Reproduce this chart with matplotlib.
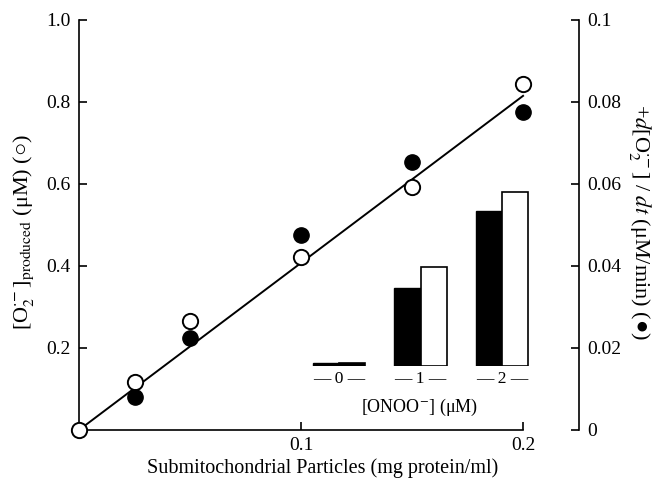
import matplotlib
matplotlib.use('Agg')
import matplotlib.pyplot as plt

# ---- data ----
x_open = [0.0, 0.025, 0.05, 0.1, 0.15, 0.2]
y_open = [0.0, 0.117, 0.266, 0.422, 0.593, 0.844]
x_filled = [0.025, 0.05, 0.1, 0.15, 0.2]
y_filled = [0.0080, 0.0225, 0.0475, 0.0654, 0.0775]
fit_x = [0.0, 0.2]
fit_y = [0.0, 0.815]
x_ticks = [0.1, 0.2]
x_ticklabels = ['0.1', '0.2']
left_ticks = [0.2, 0.4, 0.6, 0.8, 1.0]
left_ticklabels = ['0.2', '0.4', '0.6', '0.8', '1.0']
right_ticks = [0, 0.02, 0.04, 0.06, 0.08, 0.1]
right_ticklabels = ['0', '0.02', '0.04', '0.06', '0.08', '0.1']
onoo_levels = ['0', '1', '2']
inset_black = [3, 78, 155]
inset_white = [3, 99, 174]

plt.rcParams['font.family'] = ['Liberation Serif', 'DejaVu Serif']
plt.rcParams['mathtext.fontset'] = 'stix'

W, H = 652, 487
fig = plt.figure(figsize=(W / 100, H / 100), dpi=100)

def fx(px):
    return px / W

def fy(py):
    return 1 - py / H

# main axes: left spine x=79, right spine x=579, y=0 at 430, y=1.0 at 20
ax = fig.add_axes([fx(79), fy(430), (579 - 79) / W, (430 - 20) / H])
ax.set_xlim(0, 0.2252)
ax.set_ylim(0, 1.0)
ax2 = ax.twinx()
ax2.set_ylim(0, 0.1)

lw = 1.2
for a in (ax, ax2):
    a.spines['top'].set_visible(False)
    a.patch.set_visible(False)
ax.spines['right'].set_visible(False)
ax2.spines['left'].set_visible(False)
ax2.spines['bottom'].set_visible(False)
ax.spines['left'].set_linewidth(lw)
ax.spines['bottom'].set_linewidth(lw)
ax2.spines['right'].set_linewidth(lw)
ax.spines['left'].set_bounds(0, 1.0)
ax.spines['bottom'].set_bounds(0, 0.2)
ax2.spines['right'].set_bounds(0, 0.1)

ax.set_xticks(x_ticks)
ax.set_xticklabels(x_ticklabels)
ax.set_yticks(left_ticks)
ax.set_yticklabels(left_ticklabels)
ax2.set_yticks(right_ticks)
ax2.set_yticklabels(right_ticklabels)

ax.tick_params(axis='both', direction='in', length=6, width=lw, labelsize=14)
ax.tick_params(axis='x', pad=5)
ax.tick_params(axis='y', pad=6)
ax2.tick_params(axis='y', direction='in', length=6, width=lw, labelsize=14, pad=6)

# fit line
ax.plot(fit_x, fit_y, color='black', lw=1.4, zorder=2, clip_on=False)
# open circles (left axis)
ax.plot(x_open, y_open, linestyle='none', marker='o', markersize=11,
        markerfacecolor='white', markeredgecolor='black', markeredgewidth=1.4,
        zorder=5, clip_on=False)
# filled circles (right axis)
ax2.plot(x_filled, y_filled, linestyle='none', marker='o', markersize=11,
         markerfacecolor='black', markeredgecolor='black', zorder=5, clip_on=False)

# axis labels
fig.text(fx(323), fy(468), 'Submitochondrial Particles (mg protein/ml)',
         ha='center', va='center', fontsize=14.5)
fig.text(fx(24), fy(232), r'[O$_2^{\cdot\!-}$]$_{\rm produced}$ (μM) (○)',
         ha='center', va='center', rotation=90, fontsize=16)
fig.text(fx(640), fy(222), r'+$d$[O$_2^{\cdot\!-}$] / $dt$ (μM/min) (●)',
         ha='center', va='center', rotation=270, fontsize=16)

# inset bar chart
spacing = 81.5
inset_left = 339 - spacing * 0.5
axi = fig.add_axes([fx(inset_left), fy(366), 3 * spacing / W, 190 / H])
axi.set_xlim(-0.5, 2.5)
axi.set_ylim(0, 190)
axi.axis('off')
bw = 0.32
pos = list(range(len(onoo_levels)))
white_faces = ['black'] + ['white'] * (len(onoo_levels) - 1)
axi.bar([p - bw / 2 for p in pos], inset_black, width=bw, color='black',
        edgecolor='black', linewidth=1.0)
axi.bar([p + bw / 2 for p in pos], inset_white, width=bw, color=white_faces,
        edgecolor='black', linewidth=1.2)
for p, lab in zip(pos, onoo_levels):
    axi.text(p, -13, '— ' + lab + ' —', ha='center', va='center', fontsize=12.5)
fig.text(fx(420), fy(407), r'[ONOO$^{-}$] (μM)', ha='center', va='center', fontsize=13)

fig.savefig('out.png', dpi=100)
